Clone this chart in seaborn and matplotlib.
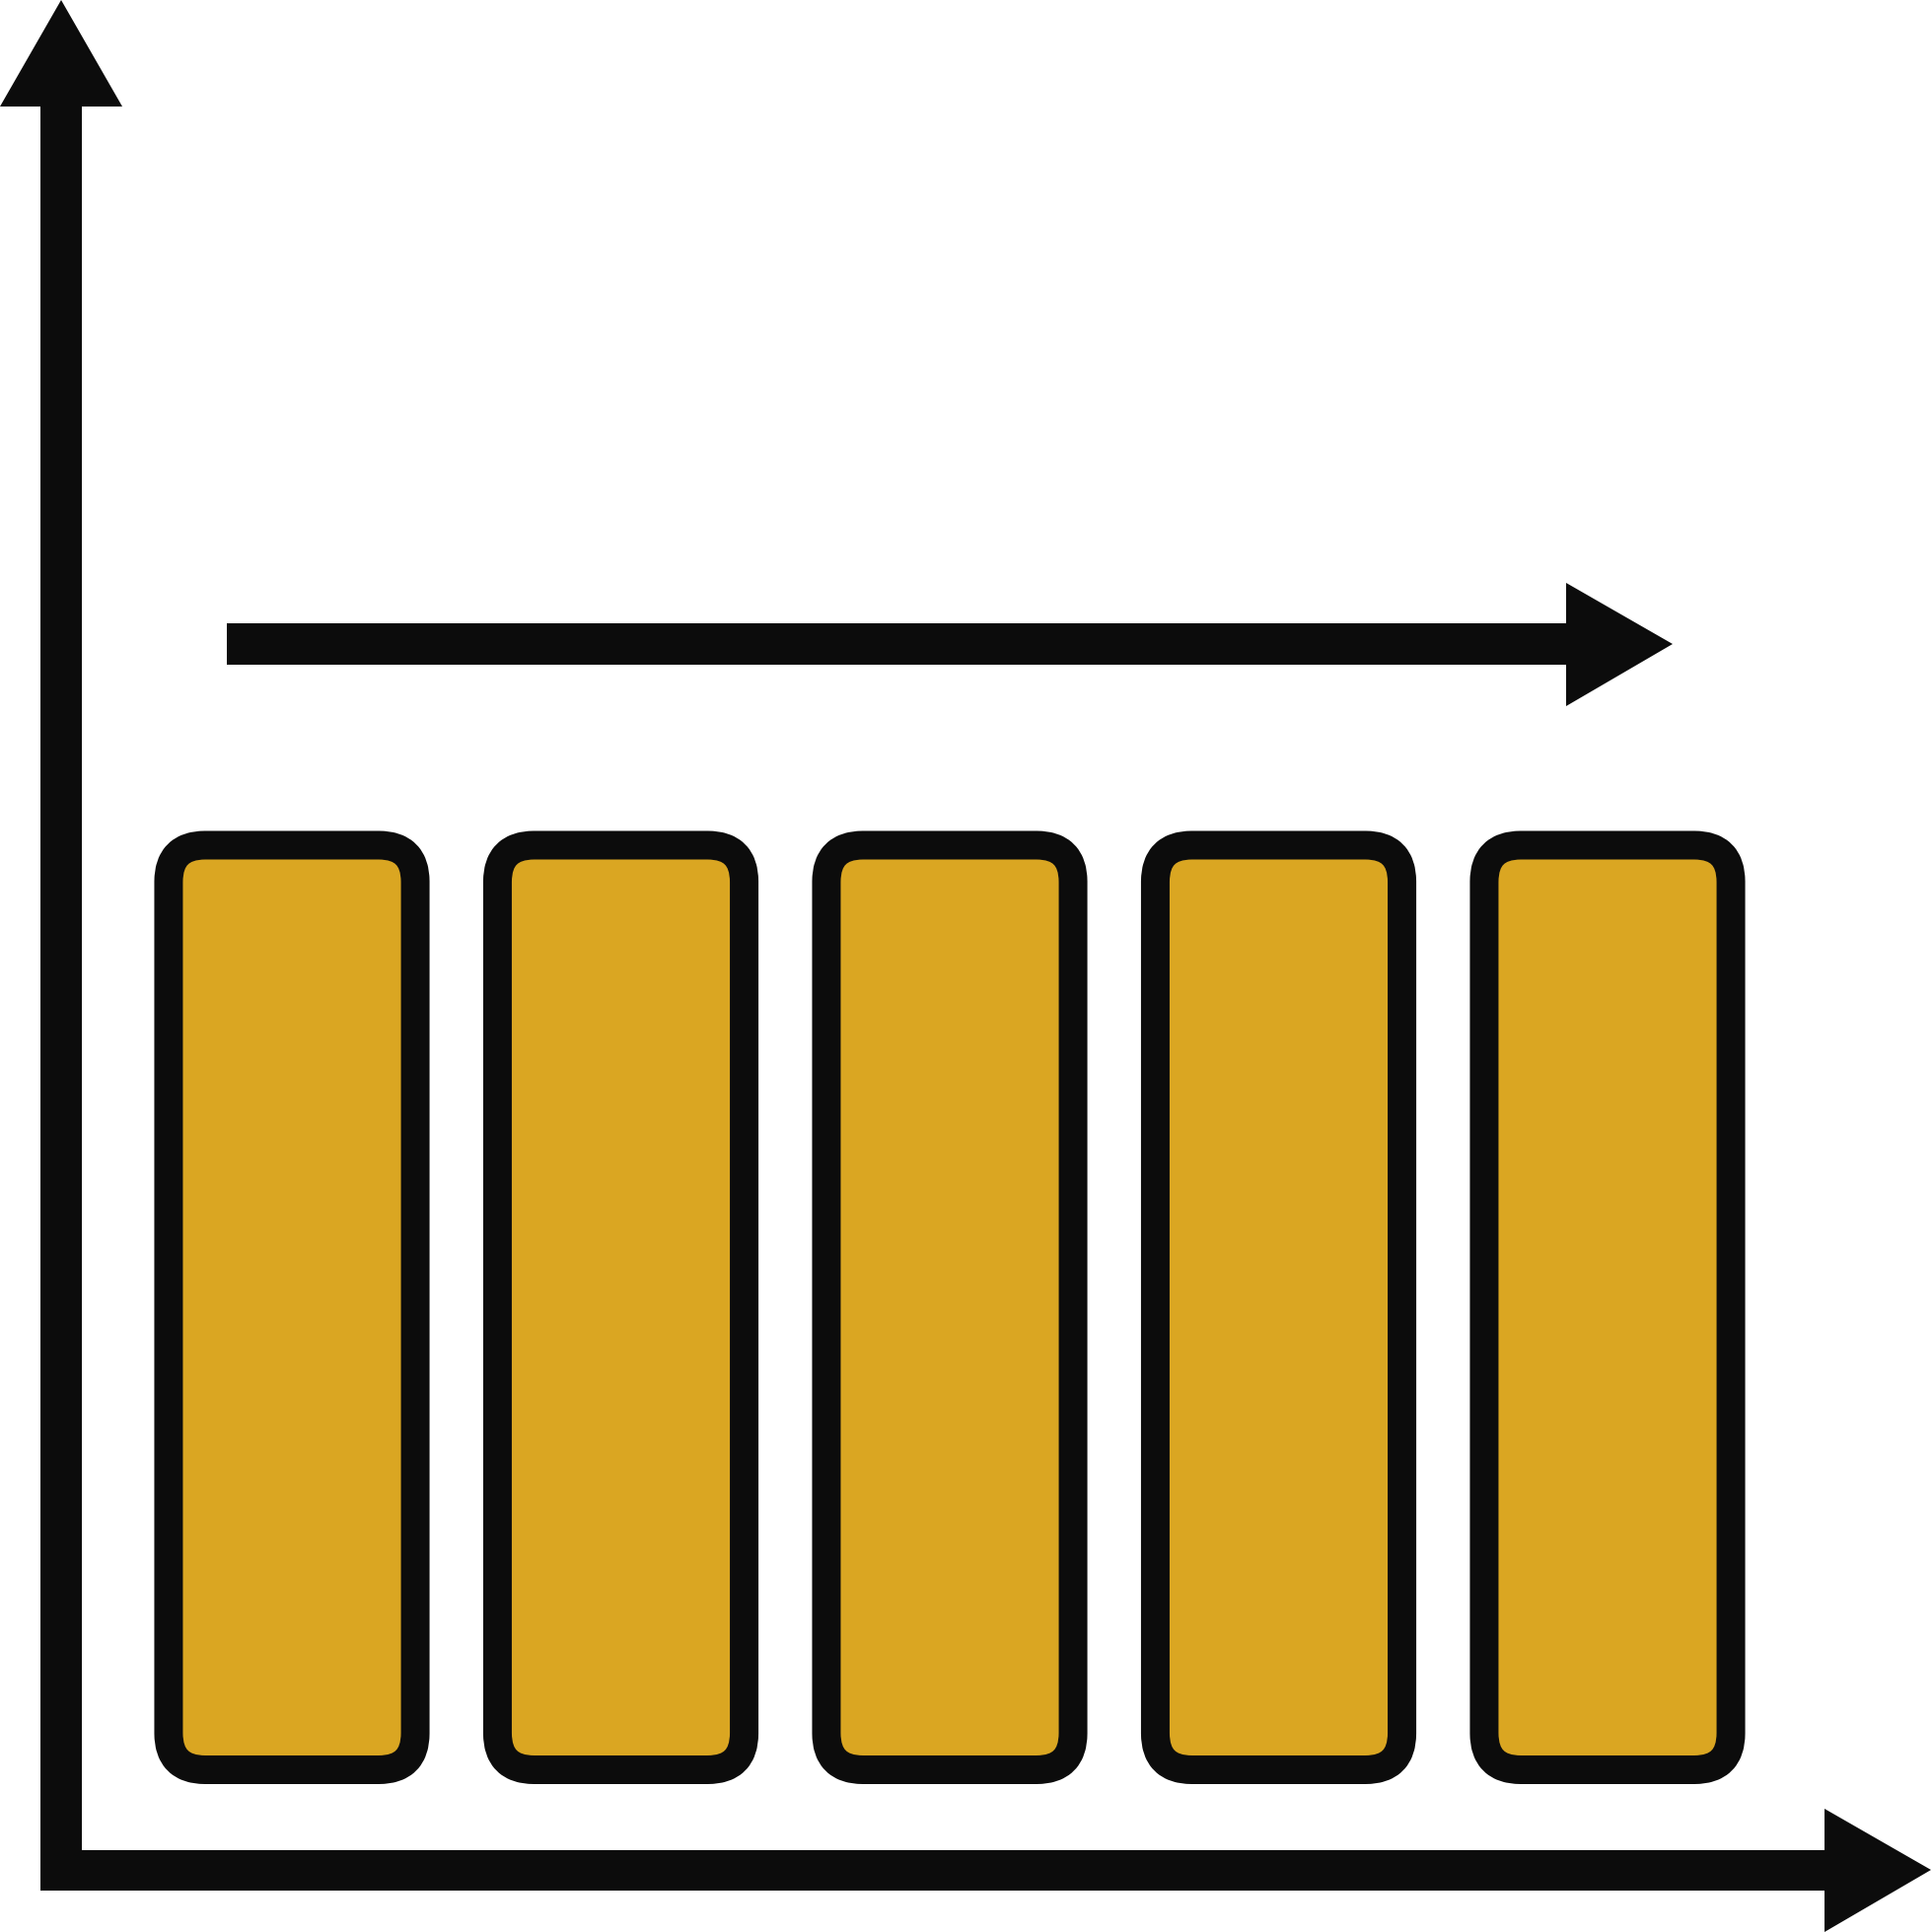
import matplotlib
matplotlib.use("Agg")
import matplotlib.pyplot as plt
import seaborn as sns
import pandas as pd
from matplotlib.patches import FancyBboxPatch, Polygon, Rectangle
from matplotlib.transforms import Affine2D

# data: five equal bars
categories = ["A", "B", "C", "D", "E"]
values = [5, 5, 5, 5, 5]

BAR_FILL = "#DAA622"
INK = "#0C0C0C"
SIZE = 1959  # px

sns.set_theme(style="white")
fig = plt.figure(figsize=(SIZE / 100, SIZE / 100), dpi=100)
ax = fig.add_axes([0, 0, 1, 1])

df = pd.DataFrame({"cat": categories, "val": values})
sns.barplot(data=df, x="cat", y="val", color=BAR_FILL, width=0.75,
            saturation=1, ax=ax)

# map category/value space onto the pixel layout of the icon
x_step = 333.5          # px between bar centres
x0_px = 296             # centre of first bar
y_unit = 187.5          # px per value unit
y0_px = 1794.5          # baseline
ax.set_xlim(-x0_px / x_step, (SIZE - x0_px) / x_step)
ax.set_ylim((y0_px - SIZE) / y_unit, y0_px / y_unit)
ax.set_axis_off()

# swap plain bars for rounded ones
aspect = x_step / y_unit
for p in list(ax.patches):
    x, y = p.get_x(), p.get_y()
    w, h = p.get_width(), p.get_height()
    p.remove()
    ax.add_patch(FancyBboxPatch((x, y), w, h,
                                boxstyle="round,pad=0,rounding_size=%f" % (37 / x_step),
                                mutation_aspect=aspect,
                                facecolor=BAR_FILL, edgecolor=INK,
                                linewidth=29 * 72 / 100, joinstyle="round",
                                zorder=3))

# decorations drawn in pixel coordinates (y down)
px = Affine2D().scale(1, -1).translate(0, SIZE).scale(1 / SIZE) + fig.transFigure

def rect(x1, y1, x2, y2):
    fig.patches.append(Rectangle((x1, y1), x2 - x1, y2 - y1, transform=px,
                                 facecolor=INK, edgecolor="none"))

def tri(pts):
    fig.patches.append(Polygon(pts, closed=True, transform=px,
                               facecolor=INK, edgecolor="none"))

# y axis
rect(41, 100, 83, 1917)
tri([(0, 108), (124, 108), (62, 0)])
# x axis
rect(41, 1876, 1860, 1917)
tri([(1850, 1834), (1850, 1959), (1958, 1896)])
# trend arrow
rect(230, 632, 1595, 674)
tri([(1588, 591), (1588, 716), (1696, 653)])

fig.savefig("out.png", dpi=100, facecolor="white")
